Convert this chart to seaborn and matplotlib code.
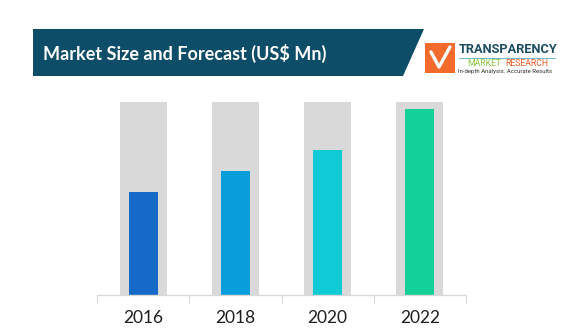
import matplotlib
matplotlib.use("Agg")
import matplotlib.pyplot as plt
import seaborn as sns
import pandas as pd
from matplotlib.patches import Polygon, Rectangle

# Data
years = ["2016", "2018", "2020", "2022"]
market_size = [53.4, 64.2, 75.1, 96.4]
scale_max = [100, 100, 100, 100]
bar_colors = ["#1569c7", "#0a9ddb", "#0fcbd6", "#13cf98"]

title = "Market Size and Forecast (US$ Mn)"

sns.set_theme(style="white")
plt.rcParams["font.family"] = ["Lato", "DejaVu Sans"]

W, H = 571, 336
fig = plt.figure(figsize=(W / 100, H / 100), dpi=100)

# Background layer in pixel coordinates for the header band and logo
bg = fig.add_axes([0, 0, 1, 1])
bg.set_xlim(0, W)
bg.set_ylim(H, 0)
bg.axis("off")

bg.add_patch(Polygon([(33, 29), (424, 29), (403, 76), (33, 76)],
                     closed=True, facecolor="#0e4d67", edgecolor="none"))
bg.text(43, 53, title, color="white", fontsize=13, fontweight="bold",
        va="center", ha="left")

# Logo block
bg.add_patch(Rectangle((425, 43), 30, 30, facecolor="#f36b2c", edgecolor="none"))
bg.plot([431, 439, 450], [52, 67, 47], color="white", lw=2.4,
        solid_capstyle="round", solid_joinstyle="round")
bg.text(459, 49.5, "TRANSPARENCY", color="#1b4d63", fontsize=9.2,
        fontweight="bold", family=["Roboto", "DejaVu Sans"],
        va="center", ha="left")
bg.plot([459, 555], [57.5, 57.5], color="#6bb6c4", lw=0.7)
bg.text(467, 63.5, "MARKET", color="#8cc63e", fontsize=6.2,
        family=["Roboto", "DejaVu Sans"], va="center", ha="left")
bg.text(505, 63.5, "RESEARCH", color="#f15a24", fontsize=6.2,
        family=["Roboto", "DejaVu Sans"], va="center", ha="left")
bg.text(458, 71.5, "In-depth Analysis. Accurate Results", color="#333333",
        fontsize=4.3, family=["Roboto", "DejaVu Sans"], va="center", ha="left")

# Chart axes
x0, x1 = 97, 466
y_top, y_bot = 102, 295
ax = fig.add_axes([x0 / W, (H - y_bot) / H, (x1 - x0) / W, (y_bot - y_top) / H])

df = pd.DataFrame({"year": years, "value": market_size, "scale": scale_max})

sns.barplot(data=df, x="year", y="scale", order=years, color="#d9d9d9",
            saturation=1, width=0.51, linewidth=0, ax=ax, zorder=1)
sns.barplot(data=df, x="year", y="value", order=years, hue="year",
            palette=bar_colors, saturation=1, width=0.315, linewidth=0,
            legend=False, ax=ax, zorder=2)

ax.set_xlim(-0.5, 3.5)
ax.set_ylim(0, 100)
ax.set_xlabel("")
ax.set_ylabel("")
ax.set_yticks([])
for side in ["top", "left", "right"]:
    ax.spines[side].set_visible(False)
ax.spines["bottom"].set_color("#d9d9d9")
ax.spines["bottom"].set_linewidth(1.0)

ax.set_xticks(range(len(years)))
ax.set_xticklabels(years)
ax.set_xticks([-0.5, 0.5, 1.5, 2.5, 3.5], minor=True)
ax.tick_params(axis="x", which="major", length=0, pad=11, labelsize=12.5,
               labelcolor="#1e1e1e")
ax.tick_params(axis="x", which="minor", bottom=True, direction="out",
               length=5.5, width=0.8, color="#d9d9d9")
ax.set_facecolor("none")

fig.savefig("out.png", dpi=100, facecolor="white")
